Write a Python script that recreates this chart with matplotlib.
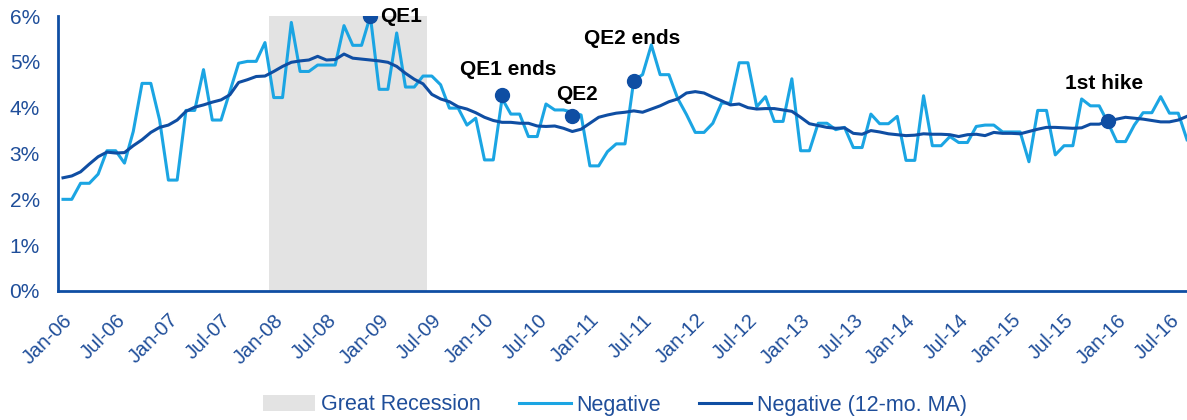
import matplotlib
matplotlib.use("Agg")
import matplotlib.pyplot as plt
from matplotlib.patches import Patch
from matplotlib.lines import Line2D
from matplotlib.ticker import FuncFormatter

plt.rcParams["font.family"] = ["Liberation Sans", "DejaVu Sans"]

# -----------------------------------------------------------------------------
# data (monthly, Jan-06 .. Sep-16), values in %
# -----------------------------------------------------------------------------
negative = [
    2.00, 2.00, 2.35, 2.35, 2.55, 3.06, 3.06, 2.79, 3.48, 4.53, 4.53, 3.73,  # 2006
    2.42, 2.42, 3.94, 3.94, 4.83, 3.73, 3.73, 4.35, 4.97, 5.01, 5.01, 5.42,  # 2007
    4.22, 4.22, 5.86, 4.79, 4.79, 4.93, 4.93, 4.93, 5.79, 5.36, 5.36, 6.00,  # 2008
    4.40, 4.40, 5.63, 4.45, 4.45, 4.69, 4.69, 4.50, 3.99, 3.99, 3.62, 3.77,  # 2009
    2.86, 2.86, 4.20, 3.86, 3.86, 3.37, 3.37, 4.08, 3.95, 3.95, 3.90, 3.84,  # 2010
    2.73, 2.73, 3.04, 3.21, 3.21, 4.60, 4.72, 5.37, 4.72, 4.72, 4.20, 3.85,  # 2011
    3.46, 3.46, 3.66, 4.10, 4.10, 4.98, 4.98, 4.02, 4.24, 3.70, 3.70, 4.63,  # 2012
    3.06, 3.06, 3.66, 3.66, 3.52, 3.57, 3.13, 3.13, 3.86, 3.65, 3.65, 3.81,  # 2013
    2.85, 2.85, 4.26, 3.17, 3.17, 3.37, 3.24, 3.24, 3.59, 3.62, 3.62, 3.47,  # 2014
    3.47, 3.47, 2.82, 3.94, 3.94, 2.97, 3.17, 3.17, 4.19, 4.04, 4.04, 3.67,  # 2015
    3.26, 3.26, 3.62, 3.89, 3.89, 4.24, 3.88, 3.88, 3.30,                    # 2016
]
negative_ma = [
    2.47, 2.51, 2.60, 2.77, 2.93, 3.03, 3.01, 3.02, 3.17, 3.30, 3.46, 3.57,
    3.62, 3.73, 3.92, 4.01, 4.06, 4.12, 4.17, 4.28, 4.55, 4.61, 4.68, 4.69,
    4.79, 4.90, 4.99, 5.02, 5.04, 5.12, 5.04, 5.05, 5.17, 5.08, 5.06, 5.04,
    5.02, 4.99, 4.90, 4.75, 4.62, 4.52, 4.29, 4.19, 4.13, 4.02, 3.97, 3.89,
    3.79, 3.72, 3.68, 3.68, 3.66, 3.66, 3.60, 3.59, 3.60, 3.55, 3.48, 3.53,
    3.66, 3.79, 3.84, 3.88, 3.90, 3.93, 3.90, 3.97, 4.04, 4.13, 4.19, 4.32,
    4.35, 4.32, 4.23, 4.15, 4.06, 4.08, 4.00, 3.97, 3.98, 3.98, 3.95, 3.92,
    3.79, 3.65, 3.61, 3.57, 3.55, 3.56, 3.44, 3.42, 3.50, 3.47, 3.43, 3.41,
    3.39, 3.40, 3.43, 3.42, 3.42, 3.41, 3.37, 3.41, 3.42, 3.39, 3.46, 3.44,
    3.44, 3.43, 3.48, 3.53, 3.57, 3.57, 3.56, 3.55, 3.56, 3.64, 3.64, 3.70,
    3.75, 3.79, 3.77, 3.75, 3.72, 3.69, 3.69, 3.73, 3.81,
]

# event markers: month index, value, label
event_idx = [35, 50, 58, 65, 119]
event_val = [6.00, 4.28, 3.82, 4.58, 3.72]
event_lbl = ["QE1", "QE1 ends", "QE2", "QE2 ends", "1st hike"]

# Great Recession: Jan-08 .. Jun-09
recession = (24, 41)

years = range(6, 17)
tick_labels = [f"{m}-{y:02d}" for y in years for m in ("Jan", "Jul")]
tick_pos = [6 * k for k in range(len(tick_labels))]

# -----------------------------------------------------------------------------
# plot
# -----------------------------------------------------------------------------
light = "#1BA5E3"
dark = "#0F4EA3"
txt = "#1F4E9A"

fig = plt.figure(figsize=(11.87, 4.20), dpi=100)
ax = fig.add_axes([58 / 1187, 129 / 420, 1129 / 1187, 275 / 420])

months = list(range(len(negative)))
ax.axvspan(recession[0] - 0.5, recession[1] + 0.5, color="#E3E3E3", lw=0, zorder=0)
ax.plot(months, negative, color=light, lw=2.2, zorder=2)
ax.plot(list(range(len(negative_ma))), negative_ma, color=dark, lw=2.2, zorder=3)
ax.plot(event_idx, event_val, "o", color=dark, ms=10, zorder=4)

offsets = {
    "QE1": (1.1, 0.0, "left", "center"),
    "QE1 ends": (0.7, 0.55, "center", "center"),
    "QE2": (0.5, 0.46, "center", "center"),
    "QE2 ends": (-0.2, 0.94, "center", "center"),
    "1st hike": (-0.5, 0.8, "center", "center"),
}
for i, v, s in zip(event_idx, event_val, event_lbl):
    dx, dy, ha, va = offsets[s]
    ax.text(i + dx, v + dy, s, ha=ha, va=va, fontsize=15, fontweight="bold",
            color="black", zorder=5)

ax.set_xlim(-0.57, len(negative) - 1)
ax.set_ylim(0, 6)
ax.set_yticks(range(0, 7))
ax.yaxis.set_major_formatter(FuncFormatter(lambda v, p: f"{v:.0f}%"))
ax.set_xticks(tick_pos)
ax.set_xticklabels(tick_labels, rotation=45, ha="right", va="top",
                   rotation_mode="anchor")
ax.tick_params(axis="both", length=0, labelcolor=txt)
ax.tick_params(axis="y", pad=13, labelsize=15)
ax.tick_params(axis="x", pad=14, labelsize=14.5)

for side in ("top", "right"):
    ax.spines[side].set_visible(False)
for side in ("left", "bottom"):
    ax.spines[side].set_color(dark)
    ax.spines[side].set_linewidth(2)

handles = [
    Patch(facecolor="#E3E3E3", edgecolor="none", label="Great Recession"),
    Line2D([], [], color=light, lw=2.2, label="Negative"),
    Line2D([], [], color=dark, lw=2.2, label="Negative (12-mo. MA)"),
]
leg = fig.legend(handles=handles, loc="center", bbox_to_anchor=(615 / 1187, 15 / 420),
                 ncol=3, frameon=False, fontsize=15.5, handlelength=2.4,
                 columnspacing=1.8, handletextpad=0.25)
for t in leg.get_texts():
    t.set_color(txt)

fig.savefig("out.png", dpi=100)
